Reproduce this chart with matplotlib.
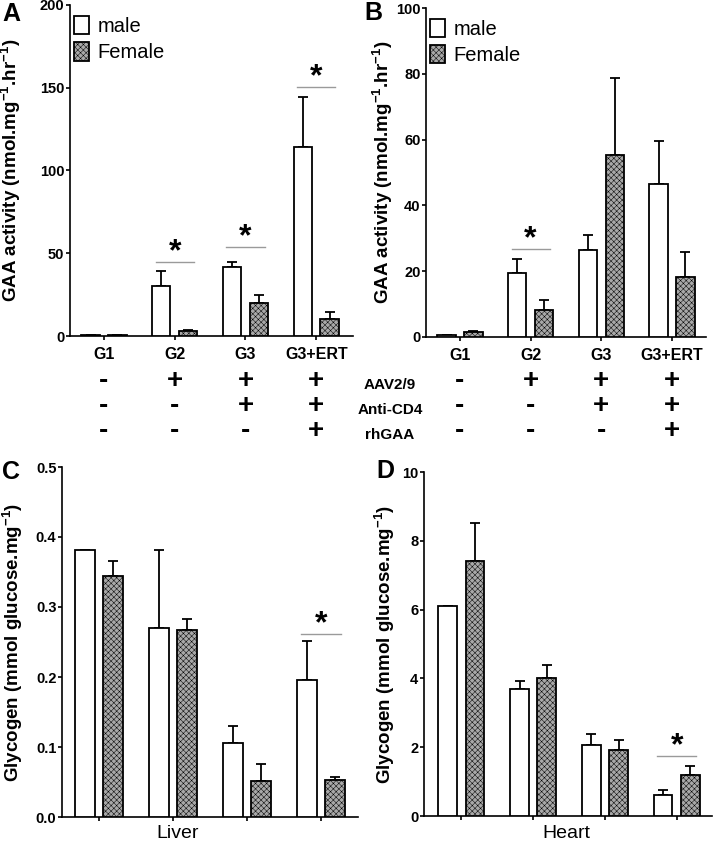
import numpy as np
import matplotlib
matplotlib.use('Agg')
import matplotlib.pyplot as plt
import matplotlib.transforms as mtransforms
from matplotlib.patches import Patch

plt.rcParams['font.family'] = ['Liberation Sans', 'DejaVu Sans']
plt.rcParams['mathtext.fontset'] = 'custom'
plt.rcParams['mathtext.rm'] = 'Liberation Sans'
plt.rcParams['mathtext.bf'] = 'Liberation Sans:bold'
plt.rcParams['mathtext.default'] = 'bf'
plt.rcParams['hatch.linewidth'] = 0.35

# group names
groups = ['G1', 'G2', 'G3', 'G3+ERT']

# A: GAA activity, muscle 1
a_male = [0.6, 30, 41.5, 114.5]
a_male_err = [0, 9, 3, 30]
a_female = [0.6, 2.8, 20, 10.5]
a_female_err = [0, 0.8, 4.5, 4]
a_sig = {1: 45, 2: 53.5, 3: 150.5}

# B: GAA activity, muscle 2
b_male = [0.5, 19.4, 26.3, 46.4]
b_male_err = [0.2, 4.2, 4.6, 13.3]
b_female = [1.5, 8.2, 55.4, 18.2]
b_female_err = [0.3, 3.0, 23.4, 7.5]
b_sig = {1: 26.7}

# C: liver glycogen
c_male = [0.381, 0.270, 0.106, 0.196]
c_male_err = [0, 0.111, 0.024, 0.055]
c_female = [0.345, 0.267, 0.052, 0.053]
c_female_err = [0.021, 0.016, 0.024, 0.004]
c_sig = {3: 0.262}

# D: heart glycogen
d_male = [6.1, 3.68, 2.06, 0.6]
d_male_err = [0, 0.25, 0.33, 0.15]
d_female = [7.41, 4.0, 1.93, 1.2]
d_female_err = [1.12, 0.38, 0.27, 0.24]
d_sig = {3: 1.74}

# treatment table
treat_names = ['AAV2/9', 'Anti-CD4', 'rhGAA']
treat_signs = [['-', '+', '+', '+'],
               ['-', '-', '+', '+'],
               ['-', '-', '-', '+']]

W, H = 714, 846
fig = plt.figure(figsize=(W / 100, H / 100), dpi=100)

def px_rect(l, t, r, b):
    return [l / W, 1 - b / H, (r - l) / W, (b - t) / H]

female_kw = dict(facecolor='#a8a8a8', edgecolor='black', hatch='xxxxxx', linewidth=1.3)
male_kw = dict(facecolor='white', edgecolor='black', linewidth=1.3)

def panel(rect, male, male_err, female, female_err, sig, ylim, yticks, ylabel, xlim, off=0.19, bw=0.26):
    ax = fig.add_axes(rect)
    x = np.arange(len(groups))
    ax.bar(x - off, male, bw, **male_kw, zorder=3)
    ax.bar(x + off, female, bw, **female_kw, zorder=3)
    ax.errorbar(x - off, male, yerr=[np.zeros(4), male_err], fmt='none', ecolor='black',
                elinewidth=1.3, capsize=3.5, capthick=1.3, zorder=2)
    ax.errorbar(x + off, female, yerr=[np.zeros(4), female_err], fmt='none', ecolor='black',
                elinewidth=1.3, capsize=3.5, capthick=1.3, zorder=2)
    for g, yv in sig.items():
        ax.plot([g - 0.27, g + 0.27], [yv, yv], color='#9a9a9a', lw=1.0)
        ax.annotate('*', xy=(g, yv), xytext=(0, 7), textcoords='offset points',
                    ha='center', va='center', fontsize=23, fontweight='bold')
    ax.set_xlim(*xlim)
    ax.set_ylim(*ylim)
    ax.set_yticks(yticks)
    ax.set_xticks(x)
    for s in ['top', 'right']:
        ax.spines[s].set_visible(False)
    for s in ['left', 'bottom']:
        ax.spines[s].set_linewidth(1.2)
    ax.tick_params(axis='y', length=3, width=1.2, pad=1, labelsize=10.5)
    ax.tick_params(axis='x', length=3, width=1.2)
    for lab in ax.get_yticklabels():
        lab.set_fontweight('bold')
    ax.set_ylabel(ylabel, fontsize=13.5, fontweight='bold')
    return ax

gaa_label = r'GAA activity (nmol.mg$^{-1}$.hr$^{-1}$)'
gly_label = r'Glycogen (mmol glucose.mg$^{-1}$)'

axA = panel(px_rect(70, 5, 353, 336), a_male, a_male_err, a_female, a_female_err, a_sig,
            (0, 200), np.arange(0, 201, 50), gaa_label, (-0.48, 3.52))
axB = panel(px_rect(426, 8, 706, 337), b_male, b_male_err, b_female, b_female_err, b_sig,
            (0, 100), np.arange(0, 101, 20), gaa_label, (-0.48, 3.48))
axC = panel(px_rect(62, 467, 358, 817), c_male, c_male_err, c_female, c_female_err, c_sig,
            (0, 0.5), np.arange(0, 0.51, 0.1), gly_label, (-0.5, 3.5))
axD = panel(px_rect(424, 472, 712, 816), d_male, d_male_err, d_female, d_female_err, d_sig,
            (0, 10), np.arange(0, 11, 2), gly_label, (-0.52, 3.49))

axC.set_yticklabels(['%.1f' % v for v in np.arange(0, 0.51, 0.1)], fontweight='bold')

axA.yaxis.set_label_coords(-0.166, 0.5)
axB.yaxis.set_label_coords(-0.11, 0.5)
axC.yaxis.set_label_coords(-0.125, 0.5)
axD.yaxis.set_label_coords(-0.094, 0.5)

for ax in (axA, axB):
    ax.set_xticklabels(groups, fontsize=11.5, fontweight='bold')
    ax.tick_params(axis='x', pad=5)
    handles = [Patch(**male_kw, label='male'), Patch(**female_kw, label='Female')]
    ax.legend(handles=handles, loc='upper left', bbox_to_anchor=(0.015, 0.968), frameon=False,
              fontsize=14.5, handlelength=0.75, handleheight=1.05, handletextpad=0.4,
              borderpad=0, borderaxespad=0, labelspacing=0.3)

for ax, name in ((axC, 'Liver'), (axD, 'Heart')):
    ax.set_xticklabels([])
    ax.set_xlabel(name, fontsize=14)
axC.xaxis.set_label_coords(0.392, -0.023)
axD.xaxis.set_label_coords(0.493, -0.026)

# treatment sign columns under A and B (one text per column, rows at 380/405/430 px)
row_y = [380, 405, 430]
for ax in (axA, axB):
    tr = mtransforms.blended_transform_factory(ax.transData, fig.transFigure)
    for g in range(len(groups)):
        col = '\n'.join(treat_signs[r][g] for r in range(len(treat_names)))
        ax.text(g, 1 - (row_y[1] + 1) / H, col, transform=tr, ha='center', va='center',
                ma='center', fontsize=20, fontweight='bold', linespacing=0.96)
for r, name in enumerate(treat_names):
    fig.text(390 / W, 1 - (row_y[r] + 5) / H, name, ha='center', va='center',
             fontsize=11, fontweight='bold')

# panel letters
for letter, (px, py) in zip('ABCD', [(11, 14), (373, 13), (11, 472), (385, 471)]):
    fig.text(px / W, 1 - py / H, letter, ha='center', va='center', fontsize=18, fontweight='bold')

fig.savefig('out.png', dpi=100)
